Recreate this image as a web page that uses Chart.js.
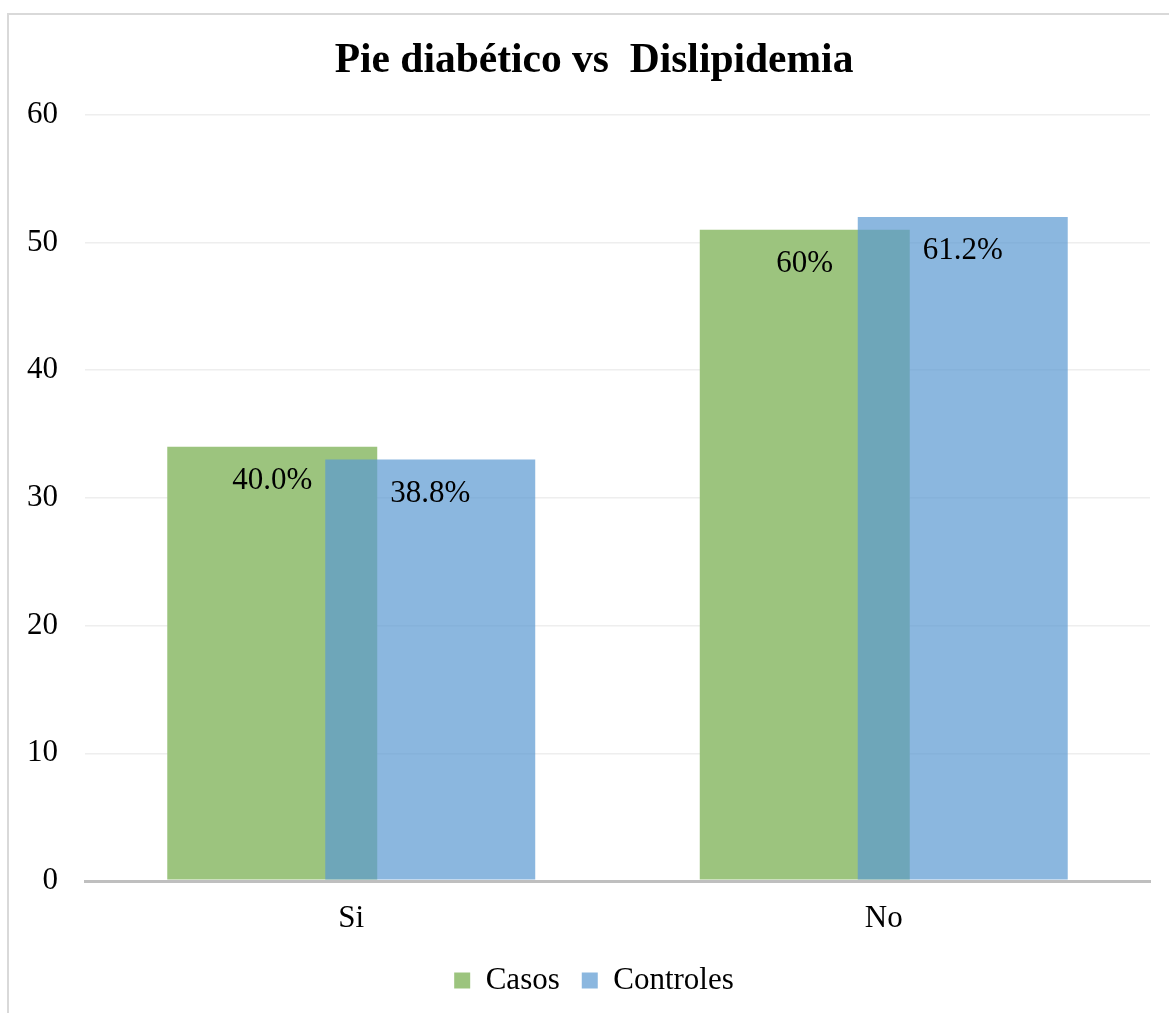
<!DOCTYPE html>
<html>
<head>
<meta charset="utf-8">
<script src="https://cdn.jsdelivr.net/npm/chart.js@4/dist/chart.umd.min.js"></script>
<style>
  html, body { margin: 0; padding: 0; background: #ffffff; }
  #wrap { position: relative; width: 1169px; height: 1013px; overflow: hidden; }
  #frame { position: absolute; left: 7px; top: 13px; width: 1200px; height: 1100px;
           border-left: 2px solid #D9D9D9; border-top: 2px solid #D9D9D9; }
  canvas { position: absolute; left: 0; top: 0; }
</style>
</head>
<body>
<div id="wrap">
  <div id="frame"></div>
  <canvas id="chart" width="1169" height="1013"></canvas>
</div>
<script>
// Categories and series
const categories = ['Si', 'No'];
const casos = [34, 51];
const controles = [33, 52];
const casosPct = ['40.0%', '60%'];
const controlesPct = ['38.8%', '61.2%'];
const yTicks = [0, 10, 20, 30, 40, 50, 60];

const SERIF = "'Liberation Serif', 'Times New Roman', serif";

// Controles bars are painted after Casos so the overlap shows the blue tint on top
const controlesOnTop = {
  id: 'controlesOnTop',
  beforeDatasetDraw(chart, args) {
    if (args.index === 1 && !chart.$late) return false;
  },
  afterDatasetsDraw(chart) {
    chart.$late = true;
    const ctx = chart.ctx;
    ctx.save();
    chart.getDatasetMeta(1).controller.draw();
    ctx.restore();
    chart.$late = false;
  }
};

// Percentage labels inside the top of each bar
const pctLabels = {
  id: 'pctLabels',
  afterDraw(chart) {
    const ctx = chart.ctx;
    const texts = [casosPct, controlesPct];
    ctx.save();
    ctx.font = '31px ' + SERIF;
    ctx.fillStyle = '#000000';
    ctx.textAlign = 'center';
    ctx.textBaseline = 'middle';
    texts.forEach((arr, di) => {
      chart.getDatasetMeta(di).data.forEach((bar, i) => {
        ctx.fillText(arr[i], bar.x, bar.y + 34);
      });
    });
    ctx.restore();
  }
};

new Chart(document.getElementById('chart'), {
  type: 'bar',
  data: {
    labels: categories,
    datasets: [
      {
        label: 'Casos',
        data: casos,
        backgroundColor: '#9CC47E',
        borderWidth: 0,
        categoryPercentage: 0.5934,
        barPercentage: 1.329
      },
      {
        label: 'Controles',
        data: controles,
        backgroundColor: 'rgba(92,154,210,0.71)',
        borderWidth: 0,
        categoryPercentage: 0.5934,
        barPercentage: 1.329
      }
    ]
  },
  options: {
    responsive: false,
    animation: false,
    layout: { padding: { left: 10, right: -9, top: 0, bottom: 7 } },
    plugins: {
      tooltip: { enabled: false },
      title: {
        display: true,
        text: 'Pie diabético vs  Dislipidemia',
        color: '#000000',
        font: { family: SERIF, size: 41.5, weight: 'bold' },
        padding: { top: 36, bottom: 29 }
      },
      legend: {
        position: 'bottom',
        labels: {
          color: '#000000',
          font: { family: SERIF, size: 31 },
          boxWidth: 16,
          boxHeight: 16,
          padding: 22
        }
      }
    },
    scales: {
      x: {
        afterFit(scale) { scale.height = 62; },
        grid: { display: false, drawTicks: false },
        border: { display: true, color: '#BFBFBF', width: 3 },
        ticks: { color: '#000000', font: { family: SERIF, size: 31 }, padding: 19 }
      },
      y: {
        min: 0,
        max: 60,
        afterFit(scale) { scale.width = 75; },
        afterBuildTicks(scale) { scale.ticks = yTicks.map(v => ({ value: v })); },
        border: { display: false },
        grid: {
          drawTicks: false,
          color: ctx => ctx.tick && ctx.tick.value === 0 ? '#BFBFBF' : '#EEEEEE',
          lineWidth: ctx => ctx.tick && ctx.tick.value === 0 ? 3 : 1.5
        },
        ticks: { color: '#000000', font: { family: SERIF, size: 31 }, padding: 27 }
      },
      // empty right-hand margin beside the plot
      yRight: {
        type: 'linear',
        position: 'right',
        afterFit(scale) { scale.width = 28; },
        border: { display: false },
        grid: { display: false, drawTicks: false },
        ticks: { display: false }
      }
    }
  },
  plugins: [controlesOnTop, pctLabels]
});
</script>
</body>
</html>
